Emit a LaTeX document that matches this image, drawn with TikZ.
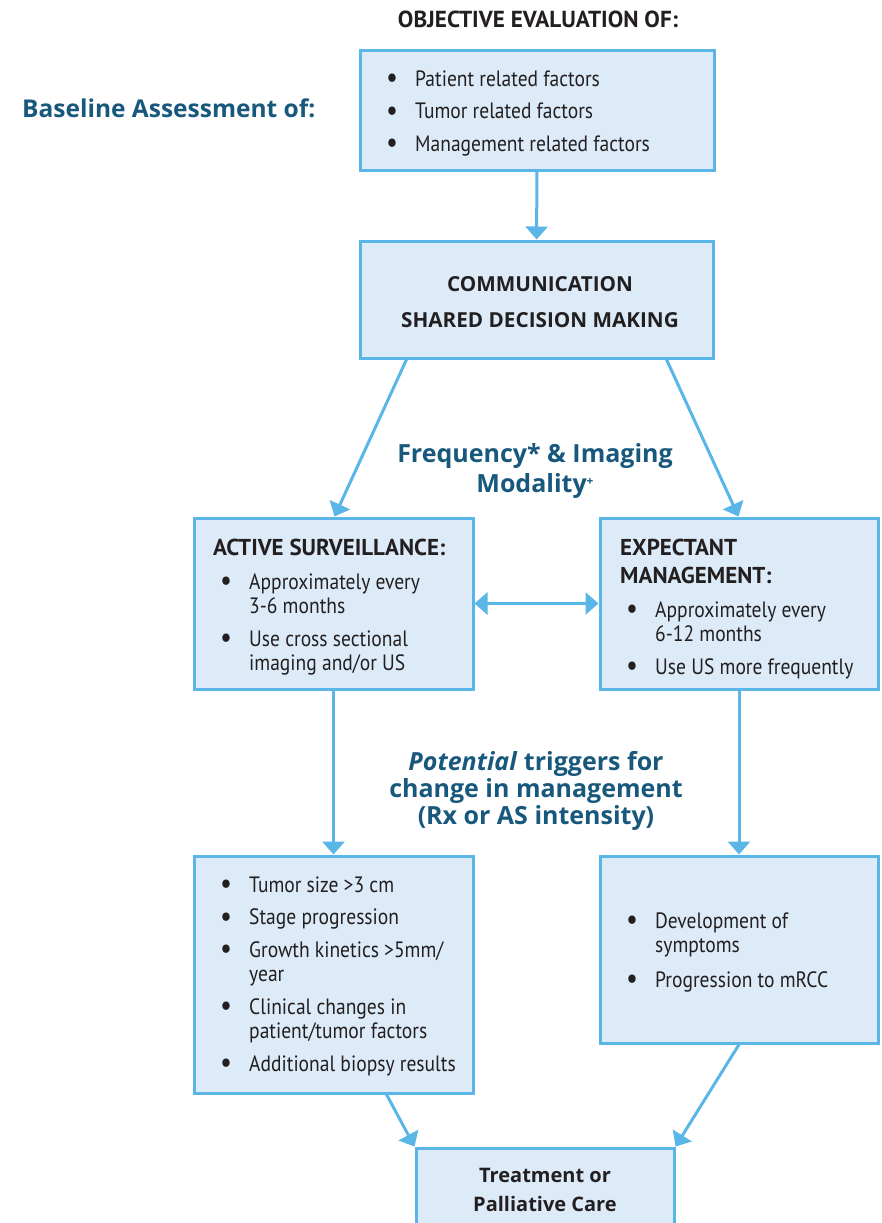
\documentclass[tikz,border=0pt]{standalone}
\usepackage{fontspec}
\setmainfont{PT Sans}[FakeStretch=0.88]
\newfontfamily\ptbold{PT Sans}
\newfontfamily\widefont{Open Sans}
\usetikzlibrary{arrows.meta}
\definecolor{edge}{HTML}{5AB6E6}
\definecolor{boxfill}{HTML}{DDEBF8}
\definecolor{ink}{HTML}{231F20}
\definecolor{navy}{HTML}{17587C}
\newcommand\bul{\raisebox{-1.5pt}{\fontsize{30}{24}\selectfont\textbullet}}
\begin{document}
\begin{tikzpicture}[x=1pt,y=-1pt,
  box/.style={draw=edge, fill=boxfill, line width=3pt, rectangle, inner sep=0pt},
  con/.style={draw=edge, line width=3pt, -{Triangle[width=22pt,length=13pt]}},
  dcon/.style={draw=edge, line width=3pt, {Triangle[width=22pt,length=13pt]}-{Triangle[width=22pt,length=13pt]}},
  body/.style={anchor=base west, inner sep=0pt, text=ink, font=\fontsize{22.2}{24.5}\selectfont},
  head/.style={anchor=base west, inner sep=0pt, text=ink, font=\ptbold\fontsize{23}{28}\selectfont\bfseries},
  bluelab/.style={anchor=base, inner sep=0pt, text=navy, font=\widefont\fontsize{25}{27}\selectfont\bfseries},
  boldc/.style={anchor=base, inner sep=0pt, text=ink, font=\widefont\fontsize{20.7}{36}\selectfont\bfseries}
]
\useasboundingbox (0,0) rectangle (882,1223);

% boxes
\node[box, minimum width=354pt, minimum height=119pt] (b1) at (537,110.5) {};
\node[box, minimum width=353pt, minimum height=117pt] (comm) at (536.5,299.5) {};
\node[box, minimum width=279pt, minimum height=171pt] (as) at (333.5,603.5) {};
\node[box, minimum width=278pt, minimum height=171pt] (em) at (739,603.5) {};
\node[box, minimum width=279pt, minimum height=237pt] (at) at (333.5,974.5) {};
\node[box, minimum width=278pt, minimum height=187pt] (et) at (739,949.5) {};
\node[box, minimum width=258pt, minimum height=112pt] (tp) at (545,1204) {};

% free labels
\node[anchor=base, inner sep=0pt, text=ink, font=\ptbold\fontsize{23.2}{26}\selectfont\bfseries] (objt) at (538,28) {OBJECTIVE EVALUATION OF:};
\node[anchor=base west, inner sep=0pt, text=navy, font=\widefont\fontsize{24.5}{27}\selectfont\bfseries] (base) at (22,117) {Baseline Assessment of:};
\node[bluelab] (freq) at (535,462) {\begin{tabular}[t]{@{}c@{}}Frequency* \& Imaging\\[3pt] Modality{\fontsize{12}{12}\selectfont\raisebox{7pt}{+}}\end{tabular}};
\node[bluelab] (trig) at (536,770) {\begin{tabular}[t]{@{}c@{}}\textit{Potential} triggers for\\ change in management\\ (Rx or AS intensity)\end{tabular}};

% box texts
\node[body] (b1t) at (386,86) {\begin{tabular}[t]{@{}p{29pt}@{}l@{}}\bul & Patient related factors\\[8pt] \bul & Tumor related factors\\[8pt] \bul & Management related factors\end{tabular}};
\node[boldc] (commt) at (540,291) {\begin{tabular}[t]{@{}c@{}}COMMUNICATION\\ SHARED DECISION MAKING\end{tabular}};

\node[head] (ast) at (213,555) {ACTIVE SURVEILLANCE:};
\node[body] (asb) at (220,589) {\begin{tabular}[t]{@{}p{29pt}@{}l@{}}\bul & Approximately every\\ & 3-6 months\\[8pt] \bul & Use cross sectional\\ & imaging and/or US\end{tabular}};

\node[head] (emt) at (620,555) {\begin{tabular}[t]{@{}l@{}}EXPECTANT\\ MANAGEMENT:\end{tabular}};
\node[body] (emb) at (626,617) {\begin{tabular}[t]{@{}p{29pt}@{}l@{}}\bul & Approximately every\\ & 6-12 months\\[8pt] \bul & Use US more frequently\end{tabular}};

\node[body] (atb) at (220,892) {\begin{tabular}[t]{@{}p{29pt}@{}l@{}}\bul & Tumor size >3 cm\\[8pt] \bul & Stage progression\\[8pt] \bul & Growth kinetics >5mm/\\ & year\\[8pt] \bul & Clinical changes in\\ & patient/tumor factors\\[8pt] \bul & Additional biopsy results\end{tabular}};

\node[body] (etb) at (626,928) {\begin{tabular}[t]{@{}p{29pt}@{}l@{}}\bul & Development of\\ & symptoms\\[10pt] \bul & Progression to mRCC\end{tabular}};

\node[anchor=base, inner sep=0pt, text=ink, font=\widefont\fontsize{20}{29}\selectfont\bfseries] (tpt) at (545,1182) {\begin{tabular}[t]{@{}c@{}}Treatment or\\ Palliative Care\end{tabular}};

% connectors
\draw[con] (b1) -- (comm);
\draw[con] ([xshift=48pt]comm.south west) -- ([xshift=142pt]as.north west);
\draw[con] ([xshift=-48pt]comm.south east) -- ([xshift=140pt]em.north west);
\draw[dcon] (as.east) -- (em.west);
\draw[con] (as.south) -- (at.north);
\draw[con] (em.south) -- (et.north);
\draw[con] ([xshift=-88pt]at.south east) -- (tp.north west);
\draw[con] (et.south) -- (tp.north east);
\end{tikzpicture}
\end{document}
